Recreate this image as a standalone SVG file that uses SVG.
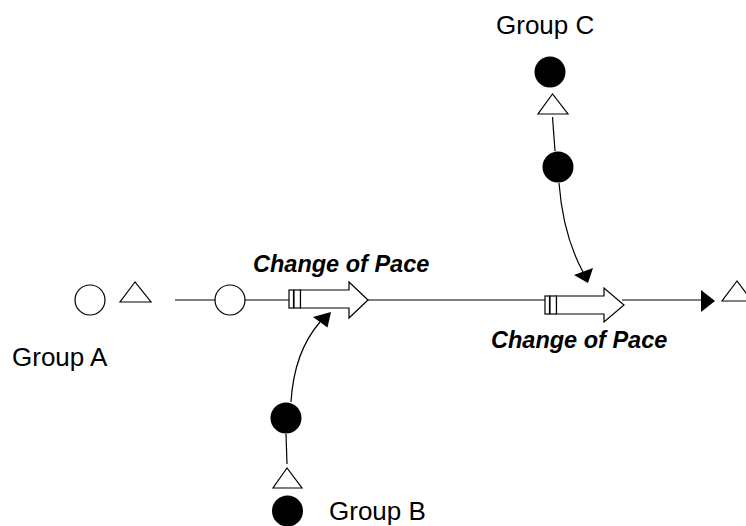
<svg xmlns="http://www.w3.org/2000/svg" width="746" height="526" viewBox="0 0 746 526">
<style>
.ln{fill:none;stroke:#000;stroke-width:1.2}
.open{fill:#fff;stroke:#000;stroke-width:1.2}
.dot{fill:#000;stroke:none}
.ah{fill:#000;stroke:none}
.lbl{font-family:"Liberation Sans",Arial,sans-serif;font-size:26px;fill:#000}
.cp{font-family:"Liberation Sans",Arial,sans-serif;font-size:23.5px;font-weight:bold;font-style:italic;fill:#000}
</style>
<rect width="746" height="526" fill="#fff"/>
<g id="connectors">
<line class="ln" x1="175" y1="300" x2="289" y2="300"/>
<line class="ln" x1="368" y1="300" x2="545" y2="300"/>
<line class="ln" x1="622" y1="300" x2="702" y2="300"/>
<polygon class="ah" points="701,290 715,301 701,312"/>
<path class="ln" d="M291,402 Q294,352 320,322"/>
<polygon class="ah" points="313,317 331,312 327.5,327.5"/>
<line class="ln" x1="286" y1="434" x2="287" y2="464"/>
<path class="ln" d="M559,183 Q563,235 583,272"/>
<polygon class="ah" points="574,275 593,268 588,283"/>
<line class="ln" x1="552.5" y1="117" x2="555" y2="151"/>
</g>
<g id="groupA-source">
<circle class="open" cx="90" cy="300" r="15"/>
<polygon class="open" points="135,282 120,302 151,302"/>
</g>
<g id="groupA-stock">
<circle class="open" cx="230" cy="300" r="15"/>
</g>
<g id="valve1">
<rect class="open" x="289" y="290" width="4.5" height="18"/>
<rect class="open" x="294" y="290" width="6.5" height="18"/>
<polygon class="open" points="300.5,290 349,290 349,282 368,300 349,318 349,308 300.5,308"/>
</g>
<g id="valve2">
<rect class="open" x="545" y="296" width="4.5" height="18"/>
<rect class="open" x="550" y="296" width="6.5" height="18"/>
<polygon class="open" points="556.5,296 604,296 604,288 624,305 604,322 604,314 556.5,314"/>
</g>
<g id="end-triangle">
<polygon class="open" points="737,281 722,301 752,301"/>
</g>
<g id="groupB-dot">
<circle class="dot" cx="286" cy="418" r="15.5"/>
</g>
<g id="groupB-triangle">
<polygon class="open" points="287,468 273,488 302,488"/>
</g>
<g id="groupB-bottom">
<circle class="dot" cx="287.5" cy="511" r="15.5"/>
</g>
<g id="groupC-top">
<circle class="dot" cx="550" cy="72" r="15.5"/>
</g>
<g id="groupC-triangle">
<polygon class="open" points="552.5,94 538,114 568,114"/>
</g>
<g id="groupC-dot">
<circle class="dot" cx="558" cy="167" r="15.5"/>
</g>
<g id="labels">
<text class="lbl" x="12" y="366">Group A</text>
<text class="lbl" x="329" y="520">Group B</text>
<text class="lbl" x="496" y="34">Group C</text>
<text class="cp" x="253" y="272">Change of Pace</text>
<text class="cp" x="491" y="348">Change of Pace</text>
</g>
</svg>
